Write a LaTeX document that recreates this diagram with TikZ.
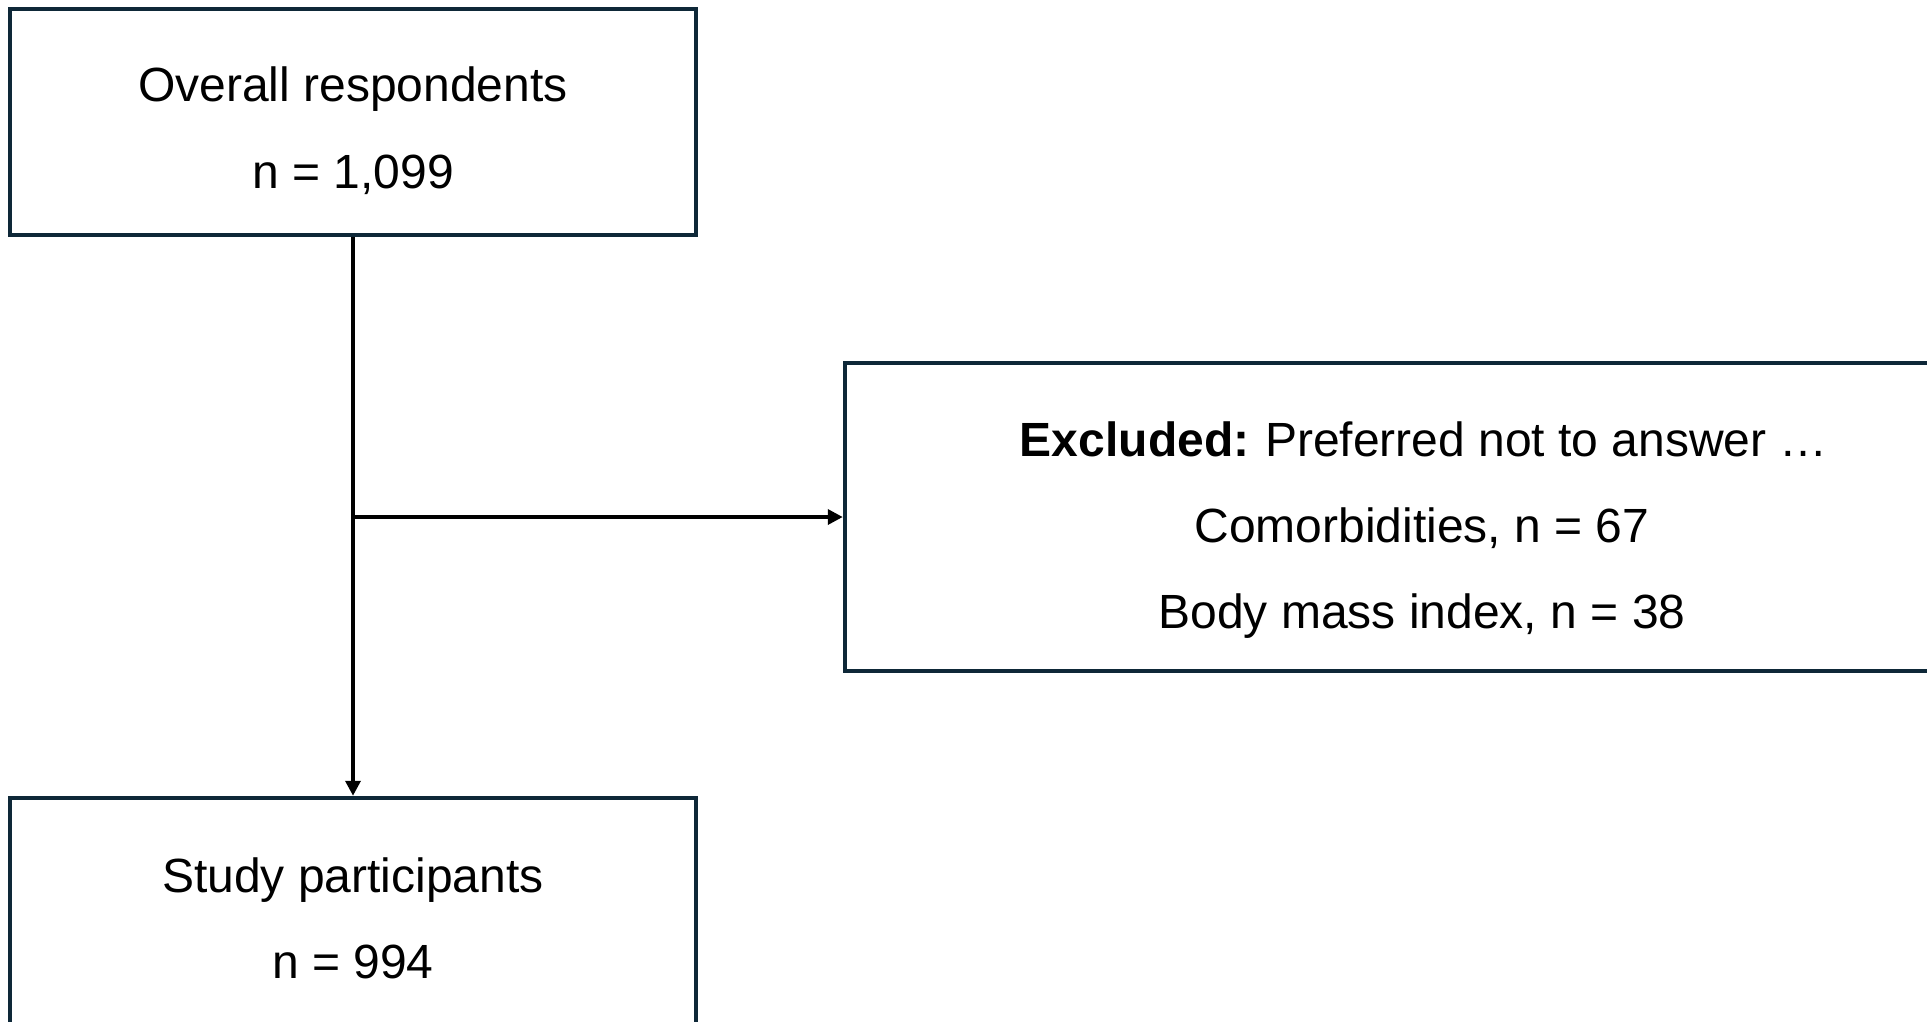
\documentclass[tikz,border=0pt]{standalone}
\usepackage{fontspec}
\setmainfont{Liberation Sans}
\usetikzlibrary{arrows.meta}
\definecolor{boxline}{RGB}{14,40,56}
\begin{document}
\begin{tikzpicture}[x=1pt,y=-1pt,
  flowbox/.style={draw=boxline, line width=4.5pt, fill=white, inner sep=0pt},
  lbl/.style={anchor=base, inner sep=0pt, font=\fontsize{48}{58}\selectfont},
  conn/.style={draw=black, line width=3.5pt, -{Triangle[length=15pt,width=15pt]}}]
\clip (0,0) rectangle (1927,1022);
\fill[white] (0,0) rectangle (1927,1022);
\node[flowbox, minimum width=686pt, minimum height=226pt] (top) at (353,122) {};
\node[flowbox, minimum width=686pt, minimum height=300pt] (bot) at (353,948) {};
\node[flowbox, minimum width=1155pt, minimum height=308pt] (ex) at (1422.5,517) {};
\node[lbl] (t1) at (353,102) {Overall respondents};
\node[lbl] (t2) at (353,188) {n = 1,099};
\node[lbl] (b1) at (353,892) {Study participants};
\node[lbl] (b2) at (353,978) {n = 994};
\node[lbl] (e1) at (1424,456) {\textbf{Excluded:}\hspace{-2pt} Preferred not to answer …};
\node[lbl] (e2) at (1422,542) {Comorbidities, n = 67};
\node[lbl] (e3) at (1422,628) {Body mass index, n = 38};
\coordinate (j) at (top.south |- ex.west);
\draw[conn] (top.south) -- (bot.north);
\draw[conn] (j) -- (ex.west);
\end{tikzpicture}
\end{document}
